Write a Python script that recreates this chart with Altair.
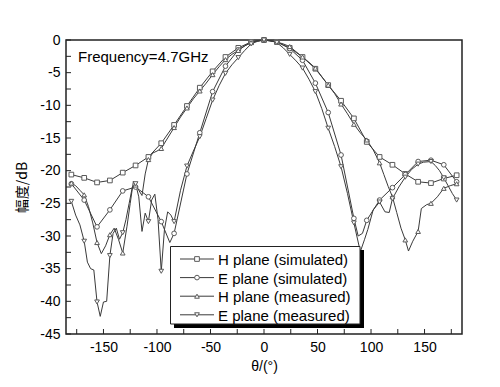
import altair as alt
import pandas as pd

series_names = ["H plane (simulated)", "E plane (simulated)",
                "H plane (measured)", "E plane (measured)"]
series_shapes = ["square", "circle", "triangle-up", "triangle-down"]

# H plane simulated (squares)
h_sim_angle = list(range(-180, 181, 12))
h_sim_db = [-20.6, -21.1, -21.8, -21.5, -20.3, -19.2, -17.9, -15.8, -13.0, -10.1,
            -7.3, -4.8, -2.6, -1.2, -0.3, 0.0, -0.3, -1.2, -2.6, -4.4,
            -6.9, -9.3, -12.0, -15.6, -17.9, -19.1, -20.5, -21.7, -21.9, -21.2, -20.7]

# E plane simulated (circles)
e_sim_angle = [-180, -168, -156, -144, -132, -120, -108, -96, -88, -84, -72, -60, -48, -36,
               -24, -12, 0, 12, 24, 36, 48, 60, 72, 84, 88, 92, 96, 108, 120, 132, 144,
               156, 168, 180]
e_sim_db = [-22.0, -24.5, -28.6, -26.0, -23.1, -22.5, -24.0, -27.8, -31.0, -29.6, -20.5,
            -14.2, -7.9, -4.0, -1.5, -0.3, 0.0, -0.3, -1.3, -3.1, -6.6, -11.1, -17.6,
            -27.3, -30.0, -29.6, -27.6, -24.5, -22.6, -20.6, -18.6, -18.4, -19.1, -21.7]

# H plane measured (triangles up)
h_meas_angle = [-180, -176, -172, -168, -164, -160, -156, -152, -148, -144, -140, -136,
                -132, -128, -125, -122, -120, -117, -114, -111, -108, -104, -100, -96,
                -90, -84, -78, -72, -66, -60, -54, -48, -42, -36, -30, -24, -18, -12, -6,
                0, 6, 12, 18, 24, 30, 36, 42, 48, 54, 60, 66, 72, 78, 84, 90, 96, 102,
                108, 112, 116, 120, 124, 128, 132, 135, 139, 144, 147, 152, 156, 162,
                168, 174, 180]
h_meas_db = [-21.9, -22.3, -23.0, -23.7, -25.5, -28.0, -31.0, -32.7, -31.5, -29.8, -28.8,
             -30.5, -32.6, -28.5, -25.0, -21.6, -22.2, -23.0, -23.8, -20.5, -18.3, -17.3,
             -17.0, -16.6, -15.0, -13.4, -11.8, -10.4, -9.0, -7.8, -6.6, -5.3, -4.1,
             -3.0, -2.2, -1.6, -0.9, -0.4, -0.1, 0.0, -0.1, -0.3, -0.6, -1.0, -1.8,
             -2.6, -3.4, -4.3, -5.6, -6.9, -8.2, -9.8, -11.3, -12.9, -14.2, -15.3,
             -16.8, -18.8, -20.6, -22.4, -24.0, -26.4, -28.8, -30.6, -32.3, -30.8,
             -29.3, -25.8, -25.2, -25.0, -24.0, -22.7, -22.3, -22.0]

# E plane measured (triangles down)
e_meas_angle = [-180, -176, -172, -168, -165, -162, -159, -156, -153, -150, -147, -144,
                -141, -138, -135, -132, -129, -126, -123, -120, -117, -114, -111, -108,
                -105, -102, -99, -96, -93, -90, -87, -84, -78, -72, -66, -60, -54, -48,
                -42, -36, -30, -24, -18, -12, -6, 0, 6, 12, 18, 24, 30, 36, 42, 48, 54,
                60, 66, 72, 78, 84, 90, 94, 97, 102, 108, 113, 117, 120, 126, 132, 138,
                144, 149, 156, 160, 164, 168, 172, 176, 180]
e_meas_db = [-24.7, -26.8, -28.3, -30.8, -34.0, -35.0, -35.2, -40.1, -42.3, -40.1, -40.0,
             -33.0, -29.6, -28.8, -30.5, -29.5, -27.5, -25.0, -22.5, -22.0, -24.0, -29.3,
             -26.5, -27.8, -24.5, -23.6, -27.5, -35.4, -29.0, -26.3, -26.8, -27.8, -23.0,
             -19.3, -17.0, -14.8, -12.0, -9.2, -7.0, -5.1, -3.8, -2.7, -1.6, -0.6, -0.2,
             0.0, -0.1, -0.4, -1.2, -2.2, -3.2, -4.3, -6.0, -7.9, -10.5, -13.5, -16.3,
             -19.4, -23.5, -28.0, -32.4, -30.5, -29.0, -26.0, -24.8, -26.3, -26.4, -24.3,
             -22.5, -21.0, -19.8, -19.0, -18.7, -18.6, -19.2, -20.0, -21.1, -22.3, -23.5,
             -24.5]

x_tick_values = list(range(-175, 176, 25))
x_label_values = list(range(-150, 151, 50))
y_tick_values = [v * 2.5 for v in range(-18, 1)]
y_label_values = list(range(-45, 1, 5))

annotation = "Frequency=4.7GHz"

rows = []
for name, angs, vals in [(series_names[0], h_sim_angle, h_sim_db),
                         (series_names[1], e_sim_angle, e_sim_db),
                         (series_names[2], h_meas_angle, h_meas_db),
                         (series_names[3], e_meas_angle, e_meas_db)]:
    for a, v in zip(angs, vals):
        rows.append({"angle": a, "db": v, "series": name, "marker": a % 12 == 0})
df = pd.DataFrame(rows)

W, H = 396, 294
FONT = "Liberation Sans"
LINE = "#3a3a3a"
MARK = "#5a5a5a"

xscale = alt.Scale(domain=[-185, 185], nice=False, zero=False)
yscale = alt.Scale(domain=[-45, 0], nice=False, zero=False)

x_axis = alt.Axis(values=x_label_values, ticks=False, domain=False, grid=False,
                  labelExpr="'' + datum.value", labelPadding=6,
                  labelOverlap=False, title="θ/(°)", titlePadding=5,
                  labelFlush=False)
y_axis = alt.Axis(values=y_label_values, ticks=False, domain=False, grid=False,
                  labelExpr="'' + datum.value", labelPadding=6,
                  labelOverlap=False, title="幅度/dB", titlePadding=10,
                  titleFont="Noto Sans CJK SC", labelFlush=False)

lines = alt.Chart(df).mark_line(color=LINE, strokeWidth=1).encode(
    x=alt.X("angle:Q", scale=xscale, axis=x_axis),
    y=alt.Y("db:Q", scale=yscale, axis=y_axis),
    detail="series:N", order="angle:Q")

points = alt.Chart(df).transform_filter("datum.marker").mark_point(
    filled=True, fill="white", stroke=MARK, strokeWidth=1, size=22, opacity=1
).encode(
    x=alt.X("angle:Q", scale=xscale, axis=x_axis),
    y=alt.Y("db:Q", scale=yscale, axis=y_axis),
    shape=alt.Shape("series:N", scale=alt.Scale(domain=series_names, range=series_shapes),
                    legend=None))

xticks = alt.Chart(pd.DataFrame({"angle": x_tick_values})).mark_rule(
    color="#222", strokeWidth=1).encode(
    x=alt.X("angle:Q", scale=xscale, axis=x_axis), y=alt.value(H), y2=alt.value(H - 5))
yticks = alt.Chart(pd.DataFrame({"db": y_tick_values})).mark_rule(
    color="#222", strokeWidth=1).encode(
    y=alt.Y("db:Q", scale=yscale, axis=y_axis), x=alt.value(0), x2=alt.value(5))

dummy = pd.DataFrame({"label": [annotation]})
freq_text = alt.Chart(dummy).mark_text(
    align="left", baseline="middle", font=FONT, fontSize=15, color="black"
).encode(x=alt.value(12), y=alt.value(17), text="label:N")

shadow = alt.Chart(dummy).mark_rect(color="black").encode(
    x=alt.value(108), x2=alt.value(298), y=alt.value(210), y2=alt.value(288))
box = alt.Chart(dummy).mark_rect(fill="white", stroke="#222", strokeWidth=1).encode(
    x=alt.value(104.5), x2=alt.value(294), y=alt.value(206.5), y2=alt.value(284))

legend_layers = []
for i, (name, shp) in enumerate(zip(series_names, series_shapes)):
    ly = 219 + i * 18.6
    ldf = pd.DataFrame({"label": [name]})
    legend_layers.append(alt.Chart(ldf).mark_rule(color=LINE, strokeWidth=1).encode(
        x=alt.value(114), x2=alt.value(148), y=alt.value(ly)))
    legend_layers.append(alt.Chart(ldf).mark_point(
        shape=shp, filled=True, fill="white", stroke=MARK, strokeWidth=1, size=22, opacity=1
    ).encode(x=alt.value(131), y=alt.value(ly)))
    legend_layers.append(alt.Chart(ldf).mark_text(
        align="left", baseline="middle", font=FONT, fontSize=15, color="black"
    ).encode(x=alt.value(152), y=alt.value(ly + 1), text="label:N"))

chart = alt.layer(lines, points, xticks, yticks, freq_text, shadow, box, *legend_layers).properties(
    width=W, height=H,
    autosize=alt.AutoSizeParams(type="none"),
    padding={"left": 58, "top": 32, "right": 30, "bottom": 45},
).configure_view(stroke="#222", strokeWidth=1.5).configure_axis(
    labelFont=FONT, labelFontSize=14, labelColor="black", labelOverlap=False,
    titleFont=FONT, titleFontSize=14, titleColor="black", titleFontWeight="normal"
)

chart.save("out.html", embed_options={"renderer": "svg", "actions": False})
